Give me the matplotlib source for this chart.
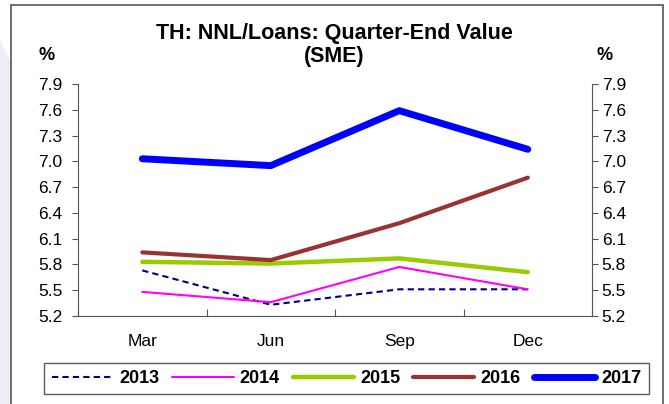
import matplotlib
matplotlib.use("Agg")
import matplotlib.pyplot as plt
from matplotlib.patches import Rectangle, Polygon

plt.rcParams['font.family'] = ['Liberation Sans', 'DejaVu Sans']

quarters = ["Mar", "Jun", "Sep", "Dec"]
years = ["2013", "2014", "2015", "2016", "2017"]
v2013 = [5.73, 5.33, 5.51, 5.51]
v2014 = [5.48, 5.36, 5.77, 5.51]
v2015 = [5.83, 5.81, 5.87, 5.71]
v2016 = [5.94, 5.85, 6.28, 6.81]
v2017 = [7.03, 6.95, 7.59, 7.14]
yticks = [5.2, 5.5, 5.8, 6.1, 6.4, 6.7, 7.0, 7.3, 7.6, 7.9]

series = [v2013, v2014, v2015, v2016, v2017]
colors = ["#000080", "#FF00FF", "#99CC00", "#993333", "#0000FF"]
widths = [1.5, 1.5, 3.2, 3.0, 5.0]
styles = [(0, (3, 2)), "-", "-", "-", "-"]

fig = plt.figure(figsize=(6.69, 4.04), dpi=100)

# pale backdrop shape along the left edge
fig.patches.append(Polygon([(0, 0), (0.016, 0), (0.016, 0.85), (0, 0.9)],
                           closed=True, transform=fig.transFigure,
                           facecolor="#EEEEF6", edgecolor="none", zorder=0))
# outer frame
fig.patches.append(Rectangle((0.017, -0.01), 0.974, 0.998, transform=fig.transFigure,
                             fill=False, edgecolor="#555555", linewidth=1.2, zorder=1))

ax = fig.add_axes([0.1166, 0.218, 0.7684, 0.574])
x = list(range(len(quarters)))
handles = []
for vals, c, lw, ls, lab in zip(series, colors, widths, styles, years):
    h, = ax.plot(x, vals, color=c, linewidth=lw, linestyle=ls,
                 solid_capstyle="round", label=lab)
    handles.append(h)

tick_fs = 12.5
ax.set_xlim(-0.5, 3.5)
ax.set_ylim(5.2, 7.9)
ax.set_yticks(yticks)
ax.set_yticklabels([f"{t:.1f}" for t in yticks], fontsize=tick_fs)
ax.set_xticks([-0.5, 0.5, 1.5, 2.5, 3.5])
ax.set_xticklabels([])
ax.set_xticks(x, minor=True)
ax.set_xticklabels(quarters, minor=True, fontsize=tick_fs)
ax.tick_params(axis="x", which="minor", length=0, pad=13)
ax.tick_params(axis="x", which="major", direction="in", length=5, color="#555555")
ax.tick_params(axis="y", direction="out", length=4, color="#555555", pad=7)
ax.spines["top"].set_visible(False)
for s in ["left", "bottom"]:
    ax.spines[s].set_color("#555555")
ax.spines["right"].set_visible(False)

ax2 = ax.twinx()
ax2.set_ylim(5.2, 7.9)
ax2.set_yticks(yticks)
ax2.set_yticklabels([f"{t:.1f}" for t in yticks], fontsize=tick_fs)
ax2.tick_params(axis="y", direction="out", length=4, color="#555555", pad=3)
ax2.spines["top"].set_visible(False)
ax2.spines["left"].set_visible(False)
ax2.spines["bottom"].set_visible(False)
ax2.spines["right"].set_color("#555555")

fig.text(0.5, 0.918, "TH: NNL/Loans: Quarter-End Value", ha="center", va="center",
         fontsize=15.5, fontweight="bold")
fig.text(0.5, 0.861, "(SME)", ha="center", va="center", fontsize=15.5, fontweight="bold")
fig.text(0.070, 0.862, "%", ha="center", va="center", fontsize=13, fontweight="bold")
fig.text(0.904, 0.862, "%", ha="center", va="center", fontsize=13, fontweight="bold")

leg = fig.legend(handles=handles, labels=years, loc="center", ncol=5,
                 bbox_to_anchor=(0.518, 0.063), frameon=True, fancybox=False,
                 handlelength=3.4, columnspacing=0.7, handletextpad=0.35,
                 prop={"weight": "bold", "size": 13}, borderpad=0.4)
leg.get_frame().set_edgecolor("#333333")
leg.get_frame().set_linewidth(1.0)

fig.savefig("out.png", dpi=100)
